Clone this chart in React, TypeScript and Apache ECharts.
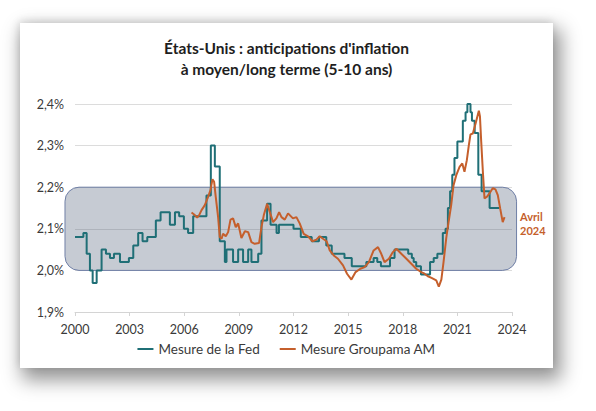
import React, { useEffect, useRef } from "react";
import * as echarts from "echarts";

// Fed measure: dates (decimal years) where the step value changes, and the value
const fedDates = [
  2000.0, 2000.46, 2000.64, 2000.82, 2000.97, 2001.19, 2001.46, 2001.7, 2001.92, 2002.14,
  2002.47, 2002.96, 2003.2, 2003.47, 2003.71, 2003.97, 2004.44, 2004.7, 2005.21, 2005.49,
  2005.72, 2005.98, 2006.21, 2006.49, 2007.22, 2007.46, 2007.68, 2007.95, 2008.23, 2008.32,
  2008.68, 2008.96, 2009.23, 2009.51, 2009.69, 2010.06, 2010.24, 2010.55, 2010.74, 2011.07,
  2011.2, 2012.0, 2012.4, 2013.0, 2013.4, 2013.8, 2014.1, 2014.8, 2015.2, 2016.0,
  2016.4, 2016.6, 2016.8, 2017.3, 2017.55, 2018.3, 2018.5, 2018.6, 2018.74, 2019.0,
  2019.5, 2019.7, 2019.9, 2020.2, 2020.35, 2020.48, 2020.6, 2020.72, 2020.84, 2021.0,
  2021.3, 2021.45, 2021.55, 2021.72, 2021.8, 2021.95, 2022.15, 2022.33, 2022.77, 2023.3,
];
const fedRates = [
  2.08, 2.09, 2.04, 2.0, 1.97, 2.0, 2.05, 2.04, 2.03, 2.04,
  2.02, 2.03, 2.06, 2.09, 2.07, 2.08, 2.12, 2.14, 2.11, 2.14,
  2.13, 2.1, 2.09, 2.13, 2.18, 2.3, 2.25, 2.07, 2.02, 2.05,
  2.02, 2.05, 2.02, 2.05, 2.02, 2.04, 2.12, 2.16, 2.11, 2.09,
  2.11, 2.1, 2.08, 2.07, 2.08, 2.06, 2.04, 2.03, 2.01, 2.02,
  2.03, 2.02, 2.01, 2.03, 2.05, 2.04, 2.03, 2.02, 2.01, 1.99,
  2.02, 2.03, 2.04, 2.09, 2.1, 2.15, 2.19, 2.23, 2.27, 2.31,
  2.36, 2.38, 2.4, 2.38, 2.36, 2.33, 2.23, 2.19, 2.15, 2.15,
];

// Groupama AM measure
const gamDates = [
  2006.4, 2006.58, 2006.71, 2006.82, 2006.95, 2007.13, 2007.31, 2007.44, 2007.55, 2007.64,
  2007.73, 2007.86, 2007.95, 2008.05, 2008.13, 2008.28, 2008.41, 2008.54, 2008.68, 2008.83,
  2008.96, 2009.14, 2009.33, 2009.51, 2009.69, 2009.87, 2010.11, 2010.24, 2010.37, 2010.55,
  2010.7, 2010.88, 2011.06, 2011.21, 2011.34, 2011.52, 2011.7, 2011.97, 2012.16, 2012.34,
  2012.56, 2012.8, 2013.04, 2013.26, 2013.44, 2013.62, 2013.82, 2013.99, 2014.21, 2014.44,
  2014.72, 2014.94, 2015.18, 2015.41, 2015.67, 2015.91, 2016.14, 2016.4, 2016.64, 2016.82,
  2017.0, 2017.24, 2017.46, 2017.65, 2017.92, 2018.2, 2018.47, 2018.74, 2019.02, 2019.2,
  2019.38, 2019.58, 2019.84, 2019.98, 2020.12, 2020.24, 2020.39, 2020.53, 2020.66, 2020.79,
  2020.94, 2021.12, 2021.27, 2021.39, 2021.52, 2021.63, 2021.72, 2021.85, 2022.0, 2022.18,
  2022.24, 2022.31, 2022.4, 2022.49, 2022.62, 2022.76, 2022.95, 2023.09, 2023.22, 2023.35,
  2023.49, 2023.59,
];
const gamRates = [
  2.139, 2.133, 2.127, 2.133, 2.145, 2.157, 2.177, 2.193, 2.219, 2.213,
  2.177, 2.128, 2.08, 2.076, 2.088, 2.082, 2.092, 2.122, 2.125, 2.104,
  2.113, 2.078, 2.094, 2.092, 2.068, 2.064, 2.066, 2.104, 2.133, 2.16,
  2.14, 2.116, 2.125, 2.14, 2.128, 2.122, 2.137, 2.125, 2.128, 2.113,
  2.088, 2.082, 2.07, 2.074, 2.082, 2.076, 2.07, 2.048, 2.036, 2.028,
  2.012, 1.992, 1.978, 1.996, 2.004, 2.008, 2.02, 2.048, 2.056, 2.04,
  2.02, 2.028, 2.044, 2.052, 2.04, 2.028, 2.016, 2.004, 1.996, 1.992,
  1.986, 1.982, 1.976, 1.961, 1.978, 2.02, 2.078, 2.12, 2.157, 2.205,
  2.229, 2.249, 2.257, 2.237, 2.265, 2.301, 2.327, 2.329, 2.353, 2.384,
  2.37, 2.309, 2.237, 2.173, 2.177, 2.185, 2.198, 2.195, 2.181, 2.149,
  2.116, 2.128,
];

// Shaded 2,0 % – 2,2 % zone: [x start, upper bound, x end, lower bound]
const bandSpan = [1999.45, 2.2, 2024.25, 2.0];

const yTicks = { min: 1.9, max: 2.4, step: 0.1 };
const xTicks = { min: 2000, max: 2024, step: 3 };

const seriesNames = ["Mesure de la Fed", "Mesure Groupama AM"];
const titleLines = ["États-Unis : anticipations d'inflation", "à moyen/long terme (5-10 ans)"];
const endNote = "Avril\n2024";

const TEAL = "#1f6f76";
const ORANGE = "#c55f2c";
const FONT = "Lato, 'Open Sans', sans-serif";

// card placement on the page
const CARD = { left: 20, top: 23, width: 533, height: 345 };

function zip(xs: number[], ys: number[]) {
  return xs.map((x, i) => [x, ys[i]]);
}

export default function App() {
  const ref = useRef<HTMLDivElement>(null);

  useEffect(() => {
    if (!ref.current) return;
    const chart = echarts.init(ref.current, undefined, { renderer: "svg" });
    chart.setOption({
      animation: false,
      title: {
        text: titleLines.join("\n"),
        left: "center",
        top: 9,
        textStyle: {
          fontFamily: FONT,
          fontSize: 15.5,
          fontWeight: "bold",
          color: "#1e1e1e",
          lineHeight: 21,
        },
      },
      grid: { left: 55, right: 41, top: 81, bottom: 56 },
      legend: {
        data: seriesNames,
        bottom: 7,
        left: "center",
        icon: "rect",
        itemWidth: 16,
        itemHeight: 2,
        itemGap: 20,
        textStyle: { fontFamily: FONT, fontSize: 13.5, color: "#3a3a3a" },
      },
      xAxis: {
        type: "value",
        min: xTicks.min,
        max: xTicks.max,
        interval: xTicks.step,
        axisLine: { show: true, lineStyle: { color: "#d4d4d4" } },
        axisTick: { show: true, length: 4, lineStyle: { color: "#d4d4d4" } },
        splitLine: { show: false },
        axisLabel: {
          margin: 11,
          fontFamily: FONT,
          fontSize: 12.5,
          color: "#3a3a3a",
          formatter: (v: number) => String(Math.round(v)),
        },
      },
      yAxis: {
        type: "value",
        min: yTicks.min,
        max: yTicks.max,
        interval: yTicks.step,
        axisLine: { show: false },
        axisTick: { show: false },
        splitLine: { lineStyle: { color: "#dcdcdc" } },
        axisLabel: {
          margin: 11,
          fontFamily: FONT,
          fontSize: 12.5,
          color: "#3a3a3a",
          formatter: (v: number) => v.toFixed(1).replace(".", ",") + "%",
        },
      },
      series: [
        {
          type: "custom",
          name: "zone",
          silent: true,
          clip: false,
          z: 1,
          encode: { x: [0, 2], y: [1, 3] },
          data: [bandSpan],
          renderItem: (_params: any, api: any) => {
            const a = api.coord([api.value(0), api.value(1)]);
            const b = api.coord([api.value(2), api.value(3)]);
            return {
              type: "rect",
              shape: { x: a[0], y: a[1], width: b[0] - a[0], height: b[1] - a[1], r: 14 },
              style: { fill: "rgba(78, 92, 118, 0.32)", stroke: "#6f7fa6", lineWidth: 1 },
            };
          },
        },
        {
          type: "line",
          name: seriesNames[0],
          data: zip(fedDates, fedRates),
          step: "end",
          showSymbol: false,
          z: 3,
          lineStyle: { color: TEAL, width: 2 },
          itemStyle: { color: TEAL },
        },
        {
          type: "line",
          name: seriesNames[1],
          data: zip(gamDates, gamRates),
          showSymbol: false,
          z: 4,
          lineStyle: { color: ORANGE, width: 2 },
          itemStyle: { color: ORANGE },
        },
      ],
      graphic: [
        {
          type: "text",
          left: 500,
          top: 186,
          style: {
            text: endNote,
            fontFamily: FONT,
            fontSize: 11,
            fontWeight: "bold",
            fill: ORANGE,
            lineHeight: 14.5,
            align: "center",
          },
        },
      ],
    });
    return () => chart.dispose();
  }, []);

  return (
    <div
      style={{
        position: "fixed",
        left: 0,
        top: 0,
        width: 596,
        height: 411,
        background: "#ffffff",
        overflow: "hidden",
      }}
    >
      <div
        style={{
          position: "absolute",
          left: CARD.left,
          top: CARD.top,
          width: CARD.width,
          height: CARD.height,
          background: "#ffffff",
          boxShadow: "5px 9px 18px 3px rgba(0,0,0,0.42), -1px -2px 8px rgba(0,0,0,0.12)",
        }}
      />
      <div
        ref={ref}
        style={{
          position: "absolute",
          left: CARD.left,
          top: CARD.top,
          width: CARD.width,
          height: CARD.height,
        }}
      />
    </div>
  );
}
